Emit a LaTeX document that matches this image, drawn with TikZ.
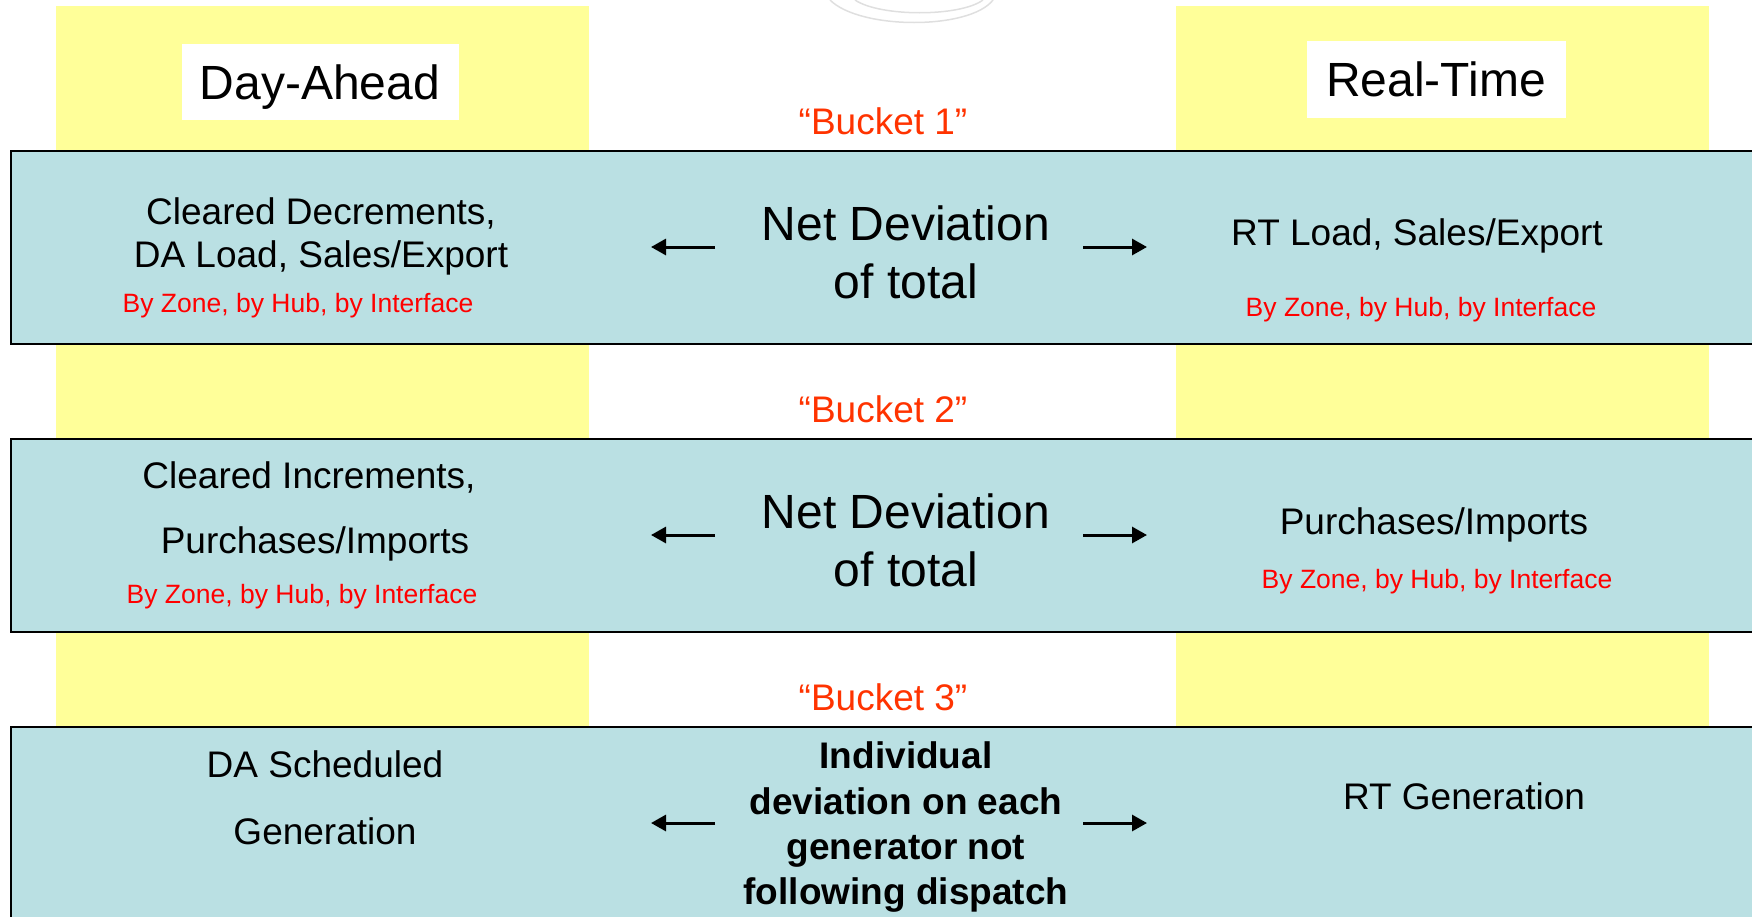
\documentclass[tikz,border=0pt]{standalone}
\usepackage{fontspec}
\setmainfont{Liberation Sans}
\usetikzlibrary{arrows.meta}
\definecolor{teal0}{HTML}{BAE0E3}
\definecolor{yel}{HTML}{FFFF99}
\definecolor{bucketred}{HTML}{FF3300}
\definecolor{redtxt}{HTML}{FF0000}
\tikzset{
  col/.style={fill=yel, draw=none},
  band/.style={fill=teal0, draw=black, line width=2pt},
  hdr/.style={fill=white, inner sep=0pt, text depth=0pt, font=\fontsize{48}{56}\selectfont},
  bucket/.style={text=bucketred, font=\fontsize{37}{44}\selectfont},
  item/.style={font=\fontsize{37}{44}\selectfont, inner sep=0pt, yshift=-3pt},
  sub/.style={text=redtxt, font=\fontsize{26.5}{32}\selectfont, inner sep=0pt, yshift=-3pt},
  net/.style={font=\fontsize{48}{58}\selectfont, align=center, inner sep=0pt},
  bold/.style={font=\bfseries\fontsize{37}{45}\selectfont, align=center, inner sep=0pt, yshift=-4pt},
  arr/.style={-{Triangle[length=15pt,width=16pt]}, line width=3pt},
}
\begin{document}
\begin{tikzpicture}[x=1pt,y=-1pt]
\useasboundingbox (0,0) rectangle (1752,916);
\clip (0,0) rectangle (1752,916);
% faint arcs at top
\draw[gray!25, line width=1.5pt] (830,0) .. controls (860,30) and (970,30) .. (993,0);
\draw[gray!25, line width=1.5pt] (855,0) .. controls (880,17) and (960,17) .. (983,0);
% yellow columns
\fill[col] (56,6) rectangle (589,740);
\fill[col] (1176,6) rectangle (1709,740);
% header labels
\node[hdr, minimum width=277pt, minimum height=76pt] (da) at (320,82) {Day-Ahead};
\node[hdr, minimum width=259pt, minimum height=77pt] (rt) at (1436,79) {Real-Time};
% buckets
\node[bucket] (b1) at (883,121) {“Bucket 1”};
\node[bucket] (b2) at (883,409) {“Bucket 2”};
\node[bucket] (b3) at (883,697) {“Bucket 3”};
% bands
\draw[band] (11,151) rectangle (1770,344);
\draw[band] (11,439) rectangle (1770,632);
\draw[band] (11,727) rectangle (1770,940);
% band 1
\node[item] (l1a) at (321,210) {Cleared Decrements,};
\node[item] (l1b) at (321,255) {DA Load, Sales/Export};
\node[sub] (l1c) at (298,303) {By Zone, by Hub, by Interface};
\node[item] (r1a) at (1417,233) {RT Load, Sales/Export};
\node[sub] (r1b) at (1421,307) {By Zone, by Hub, by Interface};
\node[net] (n1) at (906,252) {Net Deviation\\of total};
% band 2
\node[item] (l2a) at (309,474) {Cleared Increments,};
\node[item] (l2b) at (315,541) {Purchases/Imports};
\node[sub] (l2c) at (302,594) {By Zone, by Hub, by Interface};
\node[item] (r2a) at (1434,522) {Purchases/Imports};
\node[sub] (r2b) at (1437,579) {By Zone, by Hub, by Interface};
\node[net] (n2) at (906,540) {Net Deviation\\of total};
% band 3
\node[item] (l3a) at (325,761) {DA Scheduled};
\node[item] (l3b) at (325,828) {Generation};
\node[item] (r3a) at (1464,793) {RT Generation};
\node[bold] (n3) at (906,823) {Individual\\deviation on each\\generator not\\following dispatch};
% arrows
\coordinate (a1ls) at (715,247); \coordinate (a1le) at (651,247);
\coordinate (a1rs) at (1083,247); \coordinate (a1re) at (1147,247);
\coordinate (a2ls) at (715,535); \coordinate (a2le) at (651,535);
\coordinate (a2rs) at (1083,535); \coordinate (a2re) at (1147,535);
\coordinate (a3ls) at (715,823); \coordinate (a3le) at (651,823);
\coordinate (a3rs) at (1083,823); \coordinate (a3re) at (1147,823);
\draw[arr] (a1ls) -- (a1le);
\draw[arr] (a1rs) -- (a1re);
\draw[arr] (a2ls) -- (a2le);
\draw[arr] (a2rs) -- (a2re);
\draw[arr] (a3ls) -- (a3le);
\draw[arr] (a3rs) -- (a3re);
\end{tikzpicture}
\end{document}
